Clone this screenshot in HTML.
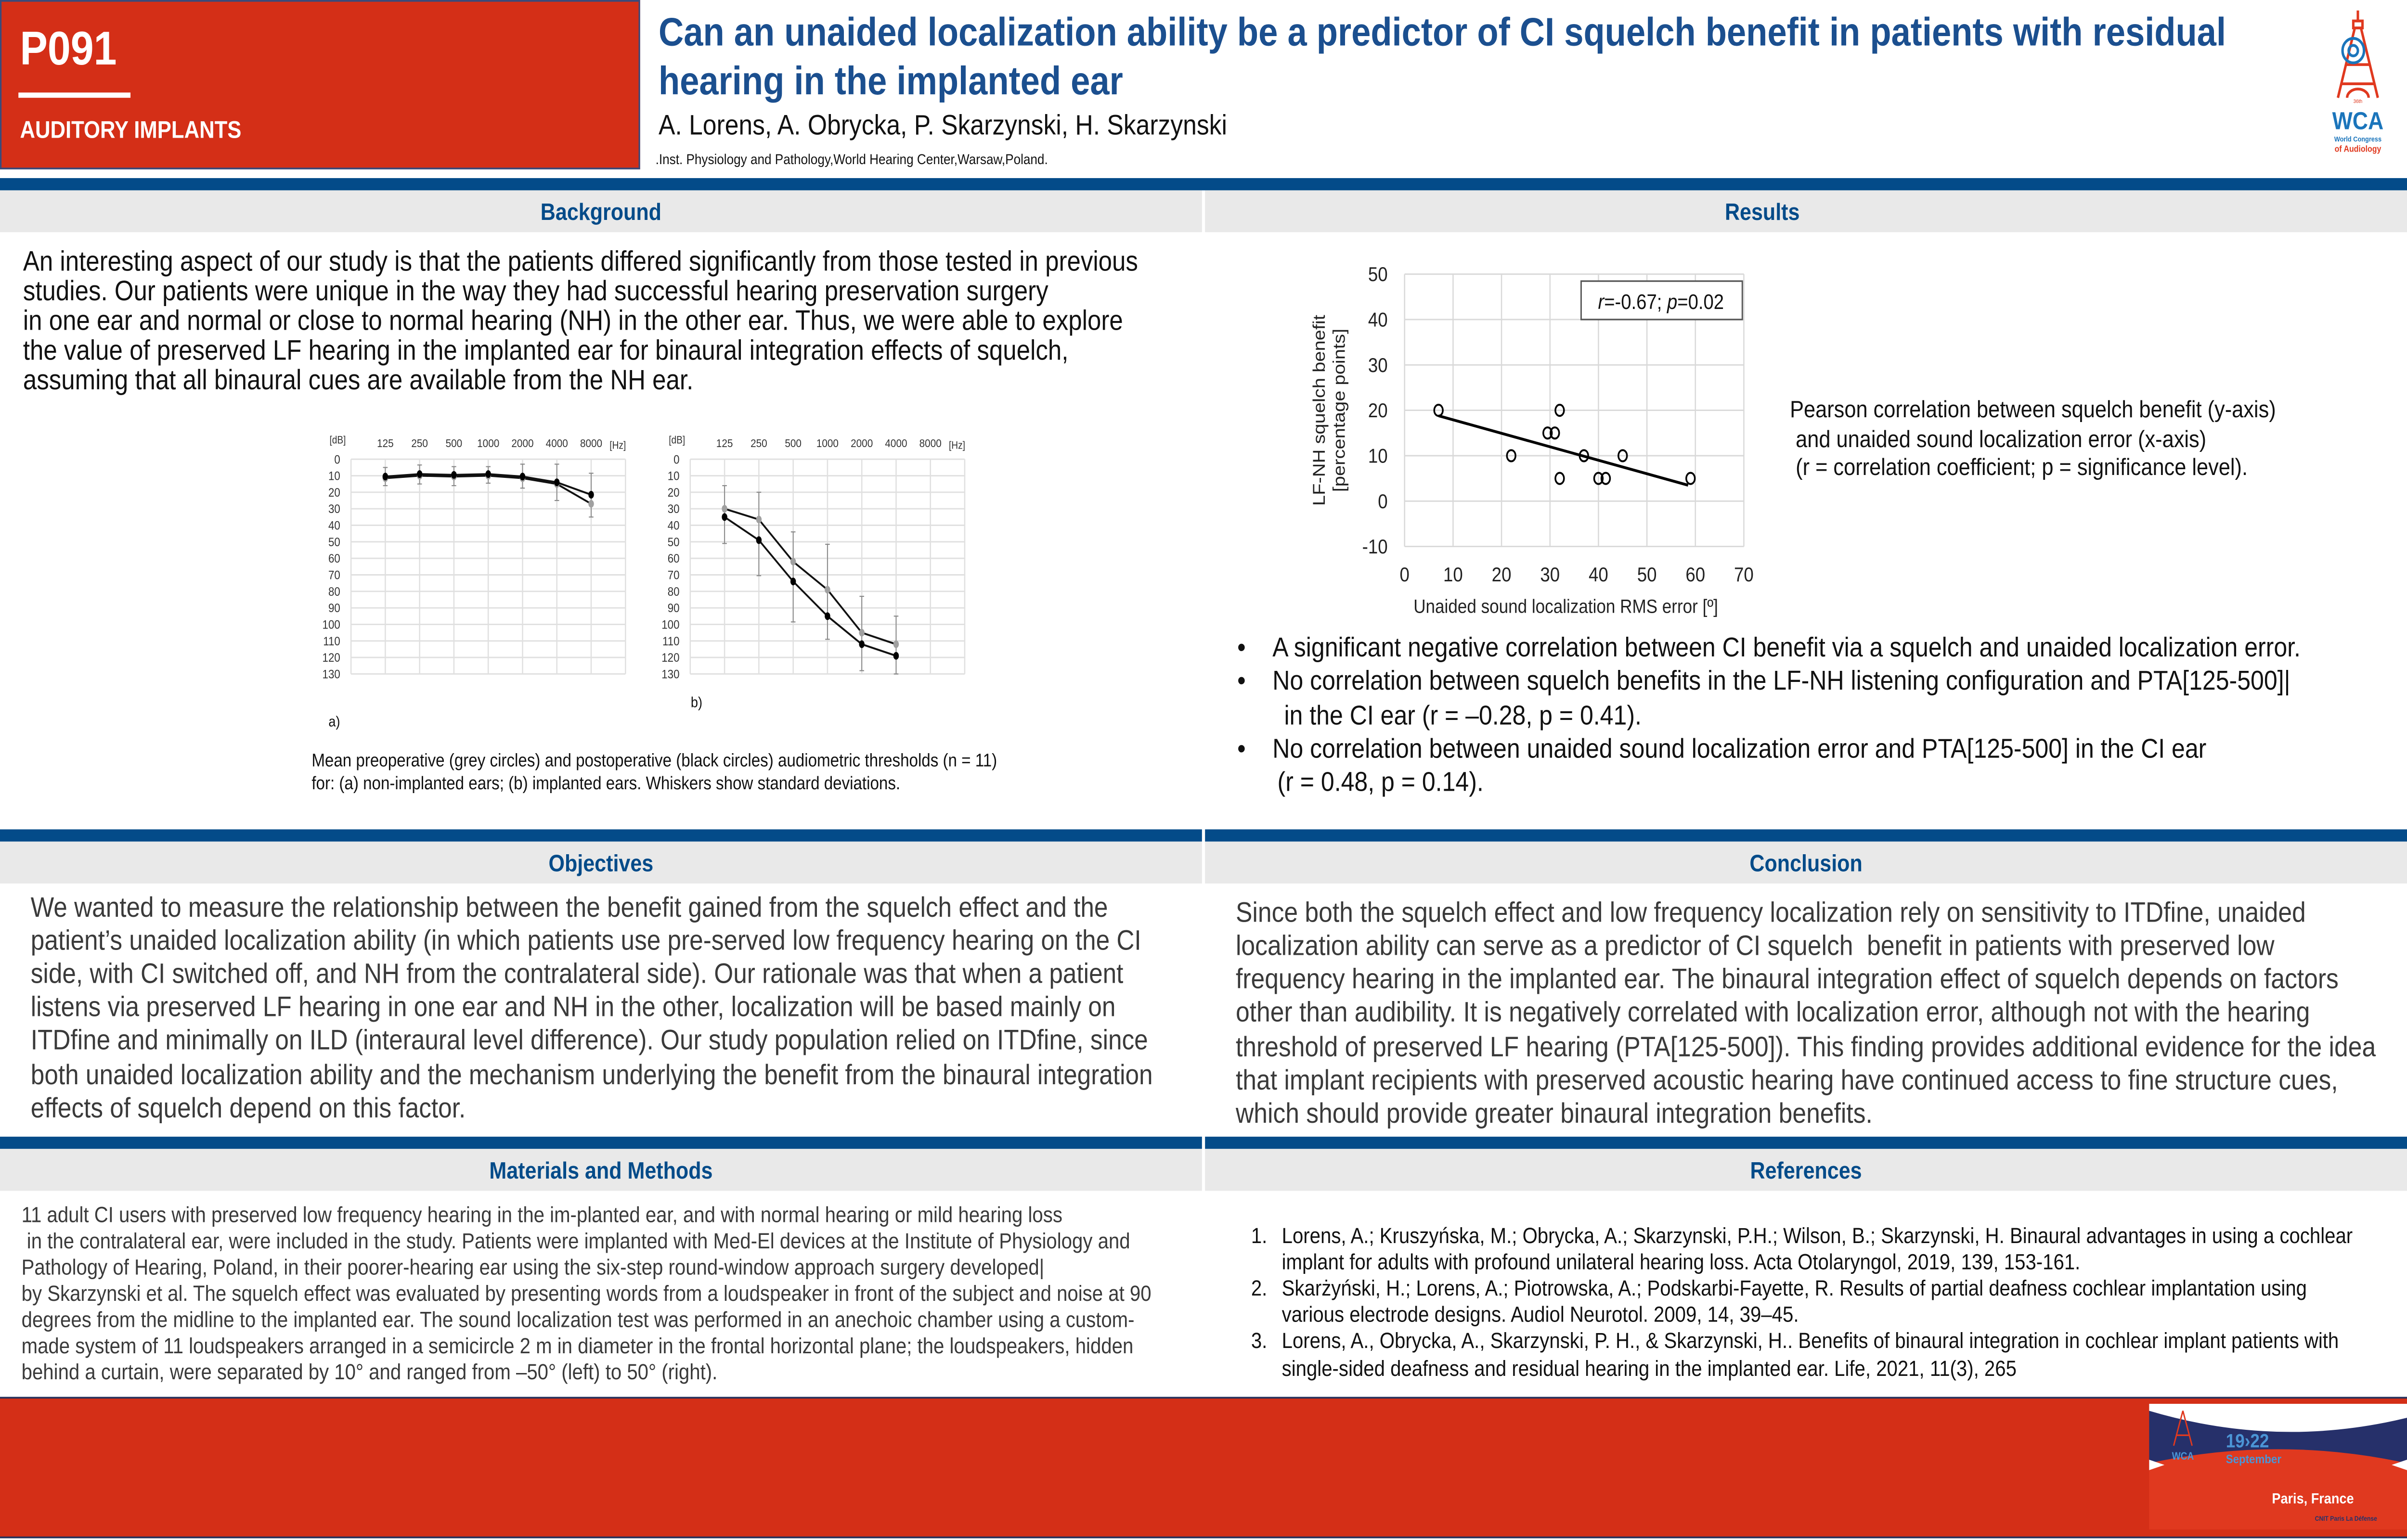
<!DOCTYPE html>
<html><head><meta charset="utf-8">
<style>
html,body{margin:0;padding:0;background:#fff;}
body{width:100vw;height:100vh;overflow:hidden;}
#page{position:absolute;left:0;top:0;width:1568px;height:882px;transform:scale(3.62819);transform-origin:0 0;font-family:"Liberation Sans",Arial,sans-serif;}
.abs{position:absolute;white-space:nowrap;}
.band-blue{position:absolute;background:#034b89;height:7px;}
.band-grey{position:absolute;background:#e9e9e9;height:24px;}
.hdr{position:absolute;font-weight:bold;color:#034b89;font-size:13.5px;text-align:center;line-height:24px;}
.txt{position:absolute;white-space:nowrap;color:#3a3a3a;}
</style></head>
<body>
<div id="page">
  <div class="abs" style="left:0;top:0;width:417px;height:97px;background:#d42f17;border:1px solid #3a4a7a;box-sizing:border-box;"></div>
  <div class="abs" style="left:13px;top:12px;font-size:27px;font-weight:bold;color:#fff;line-height:32px;">P091</div>
  <div class="abs" style="left:12px;top:53px;width:73px;height:3px;background:#fff;"></div>
  <div class="abs" style="left:13px;top:67px;font-size:13.7px;font-weight:bold;color:#fff;line-height:16px;">AUDITORY IMPLANTS</div>
  <div class="abs" style="left:429px;top:4px;font-size:22.7px;font-weight:bold;color:#1b4f8f;line-height:28px;">Can an unaided localization ability be a predictor of CI squelch benefit in patients with residual<br>hearing in the implanted ear</div>
  <div class="abs" style="left:429px;top:63px;font-size:16.2px;color:#111;line-height:18px;">A. Lorens, A. Obrycka, P. Skarzynski, H. Skarzynski</div>
  <div class="abs" style="left:427px;top:87px;font-size:8.2px;color:#111;line-height:10px;">.Inst. Physiology and Pathology,World Hearing Center,Warsaw,Poland.</div>
  <svg class="abs" style="left:1505px;top:0;" width="60" height="95" viewBox="0 0 60 95">
    <g stroke="#e0391f" stroke-width="1.6" fill="none">
      <line x1="31" y1="6" x2="31" y2="12"/><rect x="28" y="12" width="6" height="4"/>
      <line x1="29" y1="16" x2="18" y2="56"/><line x1="33" y1="16" x2="44" y2="56"/>
      <line x1="23" y1="37" x2="39" y2="37"/><line x1="20" y1="48" x2="42" y2="48"/>
      <path d="M24 56 A7 5 0 0 1 38 56"/>
    </g>
    <g stroke="#1b75bb" stroke-width="1.6" fill="none"><circle cx="28" cy="29" r="7"/><circle cx="28" cy="29" r="3"/></g>
    <text x="31" y="59" font-size="3" fill="#e0391f" text-anchor="middle" font-family="Liberation Sans">36th</text>
    <text x="31" y="74" font-size="14" font-weight="bold" fill="#1b75bb" text-anchor="middle" font-family="Liberation Sans">WCA</text>
    <text x="31" y="81" font-size="4" fill="#1b75bb" text-anchor="middle" font-family="Liberation Sans" font-weight="bold">World Congress</text>
    <text x="31" y="87" font-size="5" fill="#e0391f" text-anchor="middle" font-family="Liberation Sans" font-weight="bold">of Audiology</text>
  </svg>

  <div class="band-blue" style="left:0;top:102px;width:1568px;"></div>
  <div class="band-grey" style="left:0;top:109px;width:783px;"></div>
  <div class="band-grey" style="left:785px;top:109px;width:783px;"></div>
  <div class="hdr" style="left:0;top:110px;width:783px;">Background</div>
  <div class="hdr" style="left:785px;top:110px;width:726px;">Results</div>

  <div class="txt" style="left:15px;top:141.5px;font-size:16px;line-height:17px;color:#111;">An interesting aspect of our study is that the patients differed significantly from those tested in previous<br>studies. Our patients were unique in the way they had successful hearing preservation surgery<br>in one ear and normal or close to normal hearing (NH) in the other ear. Thus, we were able to explore<br>the value of preserved LF hearing in the implanted ear for binaural integration effects of squelch,<br>assuming that all binaural cues are available from the NH ear.</div>

  <div class="txt" style="left:203px;top:431px;font-size:10.4px;line-height:12.5px;color:#111;">Mean preoperative (grey circles) and postoperative (black circles) audiometric thresholds (n = 11)<br>for: (a) non-implanted ears; (b) implanted ears. Whiskers show standard deviations.</div>

  <div class="txt" style="left:1166px;top:227px;font-size:13.6px;line-height:16.5px;color:#111;">Pearson correlation between squelch benefit (y-axis)<br>&nbsp;and unaided sound localization error (x-axis)<br>&nbsp;(r = correlation coefficient; p = significance level).</div>

  <div class="txt" style="left:806px;top:362px;font-size:15.7px;line-height:19.3px;color:#111;">•&nbsp;&nbsp;&nbsp;&nbsp;A significant negative correlation between CI benefit via a squelch and unaided localization error.<br>•&nbsp;&nbsp;&nbsp;&nbsp;No correlation between squelch benefits in the LF-NH listening configuration and PTA[125-500]|<br>&nbsp;&nbsp;&nbsp;&nbsp;&nbsp;&nbsp;&nbsp;in the CI ear (r = –0.28, p = 0.41).<br>•&nbsp;&nbsp;&nbsp;&nbsp;No correlation between unaided sound localization error and PTA[125-500] in the CI ear<br>&nbsp;&nbsp;&nbsp;&nbsp;&nbsp;&nbsp;(r = 0.48, p = 0.14).</div>

  <div class="band-blue" style="left:0;top:475px;width:783px;"></div>
  <div class="band-blue" style="left:785px;top:475px;width:783px;"></div>
  <div class="band-grey" style="left:0;top:482px;width:783px;"></div>
  <div class="band-grey" style="left:785px;top:482px;width:783px;"></div>
  <div class="hdr" style="left:0;top:483px;width:783px;">Objectives</div>
  <div class="hdr" style="left:785px;top:483px;width:783px;">Conclusion</div>

  <div class="txt" style="left:20px;top:510.5px;font-size:16.1px;line-height:19.2px;">We wanted to measure the relationship between the benefit gained from the squelch effect and the<br>patient’s unaided localization ability (in which patients use pre-served low frequency hearing on the CI<br>side, with CI switched off, and NH from the contralateral side). Our rationale was that when a patient<br>listens via preserved LF hearing in one ear and NH in the other, localization will be based mainly on<br>ITDfine and minimally on ILD (interaural level difference). Our study population relied on ITDfine, since<br>both unaided localization ability and the mechanism underlying the benefit from the binaural integration<br>effects of squelch depend on this factor.</div>

  <div class="txt" style="left:805px;top:513.5px;font-size:16.2px;line-height:19.3px;">Since both the squelch effect and low frequency localization rely on sensitivity to ITDfine, unaided<br>localization ability can serve as a predictor of CI squelch&nbsp; benefit in patients with preserved low<br>frequency hearing in the implanted ear. The binaural integration effect of squelch depends on factors<br>other than audibility. It is negatively correlated with localization error, although not with the hearing<br>threshold of preserved LF hearing (PTA[125-500]). This finding provides additional evidence for the idea<br>that implant recipients with preserved acoustic hearing have continued access to fine structure cues,<br>which should provide greater binaural integration benefits.</div>

  <div class="band-blue" style="left:0;top:651px;width:783px;"></div>
  <div class="band-blue" style="left:785px;top:651px;width:783px;"></div>
  <div class="band-grey" style="left:0;top:658px;width:783px;"></div>
  <div class="band-grey" style="left:785px;top:658px;width:783px;"></div>
  <div class="hdr" style="left:0;top:659px;width:783px;">Materials and Methods</div>
  <div class="hdr" style="left:785px;top:659px;width:783px;">References</div>

  <div class="txt" style="left:14px;top:688.5px;font-size:12.6px;line-height:15.1px;">11 adult CI users with preserved low frequency hearing in the im-planted ear, and with normal hearing or mild hearing loss<br>&nbsp;in the contralateral ear, were included in the study. Patients were implanted with Med-El devices at the Institute of Physiology and<br>Pathology of Hearing, Poland, in their poorer-hearing ear using the six-step round-window approach surgery developed|<br>by Skarzynski et al. The squelch effect was evaluated by presenting words from a loudspeaker in front of the subject and noise at 90<br>degrees from the midline to the implanted ear. The sound localization test was performed in an anechoic chamber using a custom-<br>made system of 11 loudspeakers arranged in a semicircle 2 m in diameter in the frontal horizontal plane; the loudspeakers, hidden<br>behind a curtain, were separated by 10° and ranged from –50° (left) to 50° (right).</div>

  <div class="txt" style="left:815px;top:700.5px;font-size:12.6px;line-height:15.2px;color:#111;">1.<br><br>2.<br><br>3.</div>
  <div class="txt" style="left:835px;top:700.5px;font-size:12.6px;line-height:15.2px;color:#111;">Lorens, A.; Kruszyńska, M.; Obrycka, A.; Skarzynski, P.H.; Wilson, B.; Skarzynski, H. Binaural advantages in using a cochlear<br>implant for adults with profound unilateral hearing loss. Acta Otolaryngol, 2019, 139, 153-161.<br>Skarżyński, H.; Lorens, A.; Piotrowska, A.; Podskarbi-Fayette, R. Results of partial deafness cochlear implantation using<br>various electrode designs. Audiol Neurotol. 2009, 14, 39–45.<br>Lorens, A., Obrycka, A., Skarzynski, P. H., &amp; Skarzynski, H.. Benefits of binaural integration in cochlear implant patients with<br>single-sided deafness and residual hearing in the implanted ear. Life, 2021, 11(3), 265</div>

  <div class="abs" style="left:0;top:800px;width:1568px;height:81px;background:#d42f17;border-top:1.5px solid #26305a;border-bottom:1.5px solid #26305a;box-sizing:border-box;"></div>
  <svg class="abs" style="left:1400px;top:802px;" width="168" height="78" viewBox="0 0 168 78">
    <rect x="0" y="0" width="168" height="78" fill="#d42f17"/>
    <rect x="0" y="2" width="168" height="38" fill="#26306a"/>
    <path d="M0 2 L168 2 L168 10 Q84 28 0 6 Z" fill="#fff"/>
    <path d="M0 36 Q84 20 168 36 L168 74 L0 74 Z" fill="#e0391f"/>
    <path d="M0 34 L0 40 L10 37 Z" fill="#fff"/><path d="M168 34 L168 40 L158 37 Z" fill="#fff"/>
    <text x="50" y="27" font-size="11" font-weight="bold" fill="#4b95d6" font-family="Liberation Sans">19›22</text>
    <text x="50" y="36" font-size="7" font-weight="bold" fill="#4b95d6" font-family="Liberation Sans">September <tspan fill="#e0391f" font-size="10">2024</tspan></text>
    <text x="80" y="59" font-size="8.5" font-weight="bold" fill="#fff" font-family="Liberation Sans">Paris, France</text>
    <text x="108" y="69" font-size="3.8" font-weight="bold" fill="#26306a" font-family="Liberation Sans">CNIT Paris La Défense</text>
    <g stroke="#e0391f" stroke-width="0.9" fill="none"><line x1="22" y1="6" x2="16" y2="26"/><line x1="22" y1="6" x2="28" y2="26"/><line x1="18" y1="20" x2="26" y2="20"/></g>
    <text x="22" y="34" font-size="6" font-weight="bold" fill="#4b95d6" text-anchor="middle" font-family="Liberation Sans">WCA</text>
  </svg>

  <svg id="charts" class="abs" style="left:0;top:0;" width="1568" height="882"></svg>
</div>

<script>
// ---------- Audiogram data ----------
var freqLabels = ["125","250","500","1000","2000","4000","8000"];
var dbTicks = [0,10,20,30,40,50,60,70,80,90,100,110,120,130];
// (a) non-implanted ears
var aPost = [10.5, 9, 9.5, 9, 10.5, 14, 21.5];
var aPre  = [11.5, 10, 10.5, 10, 11.5, 15, 27];
var aErrLow  = [5, 3.5, 4.5, 4.5, 3, 3, 8.5];
var aErrHigh = [16, 15, 16, 14.5, 17.5, 25, 35];
// (b) implanted ears
var bPost = [35, 49, 74, 95, 112, 119];
var bPre  = [30, 36.5, 62, 79, 105, 112];
var bErrLow  = [16, 20, 44, 51.5, 83, 95];
var bErrHigh = [51, 70.5, 98.5, 109, 128, 130];
// ---------- Scatter data ----------
var scatterX = [7, 22, 29.5, 31, 32, 32, 37, 40, 41.5, 45, 59];
var scatterY = [20, 10, 15, 15, 20, 5, 10, 5, 5, 10, 5];
var trendX = [7, 58.5];
var trendY = [18.8, 3.5];
var scatterXTicks = [0,10,20,30,40,50,60,70];
var scatterYTicks = [-10,0,10,20,30,40,50];

(function fit(){
  var p = document.getElementById("page");
  var w = window.innerWidth || document.documentElement.clientWidth || 5689;
  var h = window.innerHeight || document.documentElement.clientHeight || 3200;
  p.style.transform = "scale(" + (w/1568) + "," + (h/882) + ")";
})();

var NS = "http://www.w3.org/2000/svg";
var svg = document.getElementById("charts");
function mk(tag, attrs, parent){
  var e = document.createElementNS(NS, tag);
  for (var k in attrs) e.setAttribute(k, attrs[k]);
  (parent||svg).appendChild(e);
  return e;
}

function audiogram(name, x125, post, pre, lo, hi, label, labelX, labelY){
  var g = mk("g", {});
  
  
  var step = 22.35, top = 263, bot = 386;
  var left = x125 - step, right = x125 + 7*step;
  function fx(i){ return x125 + i*step; }
  function fy(v){ return top + (v/130)*(bot-top); }
  for (var i=0;i<dbTicks.length;i++){
    var gl = mk("line",{x1:left,x2:right,y1:fy(dbTicks[i]),y2:fy(dbTicks[i]),stroke:"#e0e0e0","stroke-width":0.8},g);
    
    
    var t = mk("text",{x:left-7,y:fy(dbTicks[i])+2.5,"font-size":7,"text-anchor":"end",fill:"#333","font-family":"Liberation Sans Narrow, Liberation Sans, sans-serif"},g);
    t.textContent = dbTicks[i];
    
    
  }
  for (var i=-1;i<=7;i++){
    var vl = mk("line",{x1:fx(i),x2:fx(i),y1:top,y2:bot,stroke:"#e0e0e0","stroke-width":0.8},g);
    
    
  }
  for (var i=0;i<freqLabels.length;i++){
    var t = mk("text",{x:fx(i),y:256,"font-size":6.5,"text-anchor":"middle",fill:"#333","font-family":"Liberation Sans Narrow, Liberation Sans, sans-serif"},g);
    t.textContent = freqLabels[i];
    
    
  }
  var hz = mk("text",{x:fx(6)+12,y:257,"font-size":6,fill:"#333","font-family":"Liberation Sans Narrow, Liberation Sans, sans-serif"},g);
  hz.textContent = "[Hz]";
  
  
  var db = mk("text",{x:left-14,y:254,"font-size":6,fill:"#333","font-family":"Liberation Sans Narrow, Liberation Sans, sans-serif"},g);
  db.textContent = "[dB]";
  
  
  for (var i=0;i<lo.length;i++){
    var w = mk("line",{x1:fx(i),x2:fx(i),y1:fy(lo[i]),y2:fy(hi[i]),stroke:"#888","stroke-width":0.6},g);
    
    
    mk("line",{x1:fx(i)-1.5,x2:fx(i)+1.5,y1:fy(lo[i]),y2:fy(lo[i]),stroke:"#888","stroke-width":0.6},g);
    mk("line",{x1:fx(i)-1.5,x2:fx(i)+1.5,y1:fy(hi[i]),y2:fy(hi[i]),stroke:"#888","stroke-width":0.6},g);
  }
  function series(vals, fill, nm){
    var d = "";
    for (var i=0;i<vals.length;i++) d += (i?"L":"M")+fx(i)+" "+fy(vals[i]);
    var p = mk("path",{d:d,fill:"none",stroke:"#111","stroke-width":1.1},g);
    
    
    for (var i=0;i<vals.length;i++){
      var c = mk("ellipse",{cx:fx(i),cy:fy(vals[i]),rx:1.8,ry:2.2,fill:fill},g);
      
      
    }
  }
  series(pre, "#a0a0a0", "preoperative");
  series(post, "#000", "postoperative");
  var lb = mk("text",{x:labelX,y:labelY,"font-size":8.5,fill:"#111","font-family":"Liberation Sans, sans-serif"},g);
  lb.textContent = label;
  
  
}
audiogram("audiogram-non-implanted", 251, aPost, aPre, aErrLow, aErrHigh, "a)", 214, 416);
audiogram("audiogram-implanted", 472, bPost, bPre, bErrLow, bErrHigh, "b)", 450, 405);

(function(){
  var g = mk("g",{});
  
  
  var x0=915, x1=1136, yTop=157, yBot=313;
  function sx(v){ return x0 + (v-0)/(70-0)*(x1-x0); }
  function sy(v){ return yTop + (50-v)/(60)*(yBot-yTop); }
  var font = "Liberation Sans Narrow, Liberation Sans, sans-serif";
  for (var i=0;i<scatterYTicks.length;i++){
    var v = scatterYTicks[i];
    var l = mk("line",{x1:x0,x2:x1,y1:sy(v),y2:sy(v),stroke:"#d9d9d9","stroke-width":0.8},g);
    
    
    var t = mk("text",{x:x0-11,y:sy(v)+4,"font-size":11.5,"text-anchor":"end",fill:"#222","font-family":font},g);
    t.textContent = v;
    
    
  }
  for (var i=0;i<scatterXTicks.length;i++){
    var v = scatterXTicks[i];
    var l = mk("line",{x1:sx(v),x2:sx(v),y1:yTop,y2:yBot,stroke:"#d9d9d9","stroke-width":0.8},g);
    
    
    var t = mk("text",{x:sx(v),y:333,"font-size":11.5,"text-anchor":"middle",fill:"#222","font-family":font},g);
    t.textContent = v;
    
    
  }
  var xt = mk("text",{x:1020,y:351,"font-size":11,"text-anchor":"middle",fill:"#222","font-family":font},g);
  xt.textContent = "Unaided sound localization RMS error  [º]";
  
  
  var yt = mk("text",{transform:"translate(863,235) rotate(-90)","font-size":11,"text-anchor":"middle",fill:"#222","font-family":font},g);
  yt.textContent = "LF-NH squelch benefit";
  
  
  var yt2 = mk("text",{transform:"translate(876,235) rotate(-90)","font-size":11,"text-anchor":"middle",fill:"#222","font-family":font},g);
  yt2.textContent = "[percentage  points]";
  
  
  var tr = mk("line",{x1:sx(trendX[0]),y1:sy(trendY[0]),x2:sx(trendX[1]),y2:sy(trendY[1]),stroke:"#000","stroke-width":1.6},g);
  
  
  for (var i=0;i<scatterX.length;i++){
    var c = mk("ellipse",{cx:sx(scatterX[i]),cy:sy(scatterY[i]),rx:2.8,ry:3.2,fill:"none",stroke:"#000","stroke-width":1.1},g);
    
    
  }
  var box = mk("rect",{x:1030,y:161,width:105,height:22,fill:"#fff",stroke:"#555","stroke-width":0.9},g);
  
  
  var st = mk("text",{x:1082,y:177,"font-size":12,"text-anchor":"middle",fill:"#111","font-family":font},g);
  st.innerHTML = '<tspan font-style="italic">r</tspan>=-0.67; <tspan font-style="italic">p</tspan>=0.02';
  
  
})();
</script>
</body></html>
